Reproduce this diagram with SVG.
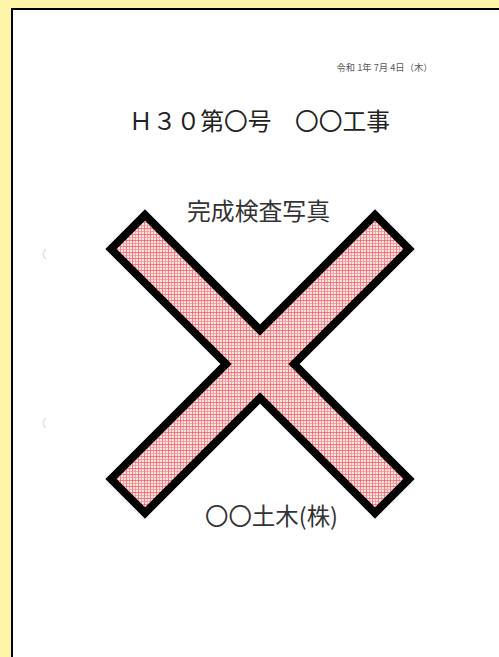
<svg xmlns="http://www.w3.org/2000/svg" width="499" height="657" viewBox="0 0 499 657">
  <defs>
    <pattern id="plaid" width="6" height="6" patternUnits="userSpaceOnUse">
      <rect width="6" height="6" fill="#fde3e3"/>
      <rect x="0" y="0" width="1" height="6" fill="#f35a5a" opacity="0.75"/>
      <rect x="3" y="0" width="1" height="6" fill="#f78a8a" opacity="0.7"/>
      <rect x="0" y="0" width="6" height="1" fill="#f35a5a" opacity="0.75"/>
      <rect x="0" y="3" width="6" height="1" fill="#f78a8a" opacity="0.7"/>
    </pattern>
    <style>
      .jp { font-family: "Noto Sans CJK JP", "Noto Sans", sans-serif; }
      .title { font-size: 23.5px; fill: #222; }
      .sub { font-size: 23.5px; fill: #333; }
      .date { font-size: 9px; fill: #555; }
      .hole { fill: none; stroke: #e2e2e2; stroke-width: 1.5; }
    </style>
  </defs>
  <rect x="0" y="0" width="499" height="657" fill="#fff5a8"/>
  <rect id="page" x="12" y="9" width="500" height="660" fill="#ffffff" stroke="#000" stroke-width="2"/>
  <path class="hole" d="M46 249 A6 6 0 0 0 46 259"/>
  <path class="hole" d="M46 418 A6 6 0 0 0 46 428"/>

  <g id="date">
    <text class="jp date" x="336.5" y="71" textLength="96" lengthAdjust="spacingAndGlyphs">令和 1年 7月 4日（木）</text>
  </g>
  <g id="title">
    <text class="jp title" x="129" y="130" textLength="261" lengthAdjust="spacingAndGlyphs">Ｈ３０第〇号　〇〇工事</text>
  </g>

  <g id="cross">
    <polygon points="260,330 375,215 409,249 294,364 409,479 375,513 260,398 145,513 111,479 226,364 111,249 145,215"
      fill="url(#plaid)" stroke="#000" stroke-width="8" stroke-linejoin="miter" stroke-miterlimit="10"/>
  </g>

  <g id="subtitle">
    <text class="jp sub" x="187" y="220" textLength="143" lengthAdjust="spacingAndGlyphs">完成検査写真</text>
  </g>
  <g id="company">
    <text class="jp sub" x="205" y="525" textLength="133" lengthAdjust="spacingAndGlyphs">〇〇土木(株)</text>
  </g>
</svg>
